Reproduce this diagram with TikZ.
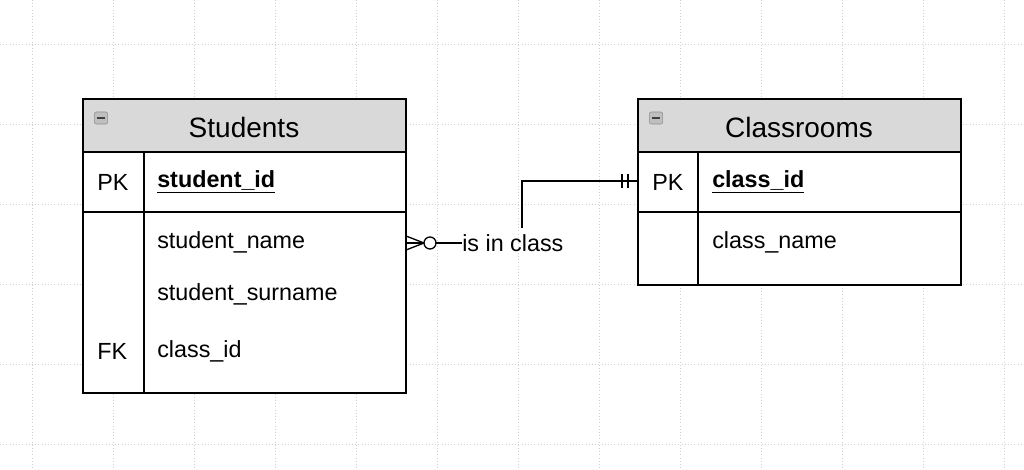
\documentclass[tikz,border=0pt]{standalone}
\usepackage{fontspec}
\setmainfont{Liberation Sans}
\begin{document}
\begin{tikzpicture}[x=0.75pt,y=-0.75pt,
  box/.style={draw=black,line width=1.2pt},
  hdr/.style={draw=black,line width=1.2pt,fill=black!15},
  txt/.style={font=\fontsize{17.5}{20}\selectfont,anchor=west,inner sep=0},
  ttl/.style={font=\fontsize{21}{24}\selectfont,inner sep=0},
  ln/.style={line width=1pt},
  icon/.style={draw=black!45,fill=black!25,rounded corners=1.5pt,minimum width=10pt,minimum height=9pt,inner sep=0}]
\useasboundingbox (0,0) rectangle (1024,470);
\fill[white] (0,0) rectangle (1024,470);
\foreach \x in {32,113,...,1024} \draw[black!18,dotted] (\x,0) -- (\x,470);
\foreach \y in {44,124,...,470} \draw[black!18,dotted] (0,\y) -- (1024,\y);
% Students
\draw[hdr] (83,99) rectangle (406,152);
\draw[box,fill=white] (83,152) rectangle (406,393);
\draw[box] (83,212) -- (406,212);
\draw[box] (144,152) -- (144,393);
\node[icon] (i1) at (101,118) {};
\draw[black!75,line width=1.2pt] (97,118) -- (105,118);
\node[ttl] (st) at (244,127) {Students};
\node[txt] (pk1) at (97,182) {PK};
\node[txt] (sid) at (157,182) {\textbf{\underline{student\_id}}};
\node[txt] (sn) at (157,242) {student\_name};
\node[txt] (ss) at (157,294) {student\_surname};
\node[txt] (fk) at (97,351) {FK};
\node[txt] (cid) at (157,351) {class\_id};
% Classrooms
\draw[hdr] (638,99) rectangle (961,152);
\draw[box,fill=white] (638,152) rectangle (961,285);
\draw[box] (638,212) -- (961,212);
\draw[box] (698,152) -- (698,285);
\node[icon] (i2) at (656,118) {};
\draw[black!75,line width=1.2pt] (652,118) -- (660,118);
\node[ttl] (ct) at (799,127) {Classrooms};
\node[txt] (pk2) at (652,182) {PK};
\node[txt] (ccid) at (712,182) {\textbf{\underline{class\_id}}};
\node[txt] (cn) at (712,242) {class\_name};
% connector
\node[txt] (lab) at (462,243) {is in class};
\coordinate (b) at (638,181);
\draw[ln] (406,236) -- (424,243) -- (406,250);
\draw[ln] (406,243) -- (424,243);
\draw[ln,fill=white] (430,243) circle (6);
\draw[ln] (436,243) -- (lab.west);
\draw[ln] (522,228) -- (522,181) -- (b);
\draw[ln] (622,174) -- (622,188);
\draw[ln] (628,174) -- (628,188);
\end{tikzpicture}
\end{document}
